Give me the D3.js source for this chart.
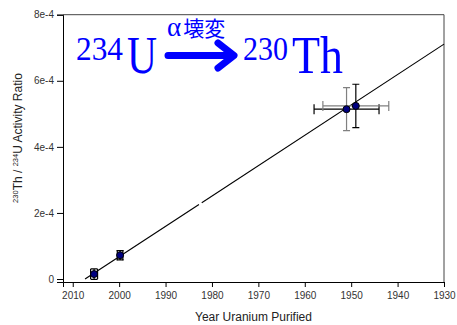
<!DOCTYPE html>
<html lang="ja">
<head>
    <meta charset="UTF-8">
    <title>230Th / 234U Activity Ratio</title>
    <style>
        body{ margin:0; background:#fff; }
        svg{ display:block; }
        .tickLabel{ font-family:"Liberation Sans", Arial, sans-serif; font-size:10px; fill:#333; }
        .axisTitle{ font-family:"Liberation Sans", Arial, sans-serif; font-size:12px; fill:#222; }
        .nuclide{ font-family:"Liberation Serif", "Times New Roman", serif; fill:#0000ff; }
    </style>
    <script src="https://cdn.jsdelivr.net/npm/d3@7"></script>
</head>
<body>
<script>
    // measured samples
    const years = [2005.4, 1999.8, 1951.0, 1949.0];
    const ratios = [1.5e-5, 7.2e-5, 5.14e-4, 5.24e-4];
    const yearErr = [0.75, 0.6, 7.0, 7.1];
    const ratioErr = [1.6e-5, 1.4e-5, 0.65e-4, 0.655e-4];
    // which error bar pieces look grey in the figure
    const vErrColor = ["#000", "#000", "#808080", "#000"];
    const hErrColor = ["#000", "#000", "#000", "#808080"];

    // decay line (drawn in two pieces, small gap near 1982)
    const fitYears = [[2007.35, 1982.8], [1982.2, 1930]];
    const fitRatios = [[0, 2.256e-4], [2.311e-4, 7.11e-4]];

    const xTicks = [2010, 2000, 1990, 1980, 1970, 1960, 1950, 1940, 1930];
    const yTicks = [0, 2e-4, 4e-4, 6e-4, 8e-4];
    const yTickLabels = ["0", "2e-4", "4e-4", "6e-4", "8e-4"];

    const width = 457, height = 325;
    const plot = {left: 63, right: 444, top: 14.7, bottom: 282};

    const svg = d3.select("body").append("svg")
        .attr("width", width).attr("height", height);

    const x = d3.scaleLinear().domain([2012.1, 1930]).range([plot.left, plot.right]);
    const y = d3.scaleLinear().domain([-9e-6, 8e-4]).range([plot.bottom, plot.top]);

    /* ---------- frame ---------- */
    svg.append("path")
        .attr("d", `M${plot.left},${plot.top}H${plot.right}V${plot.bottom}`)
        .attr("fill", "none").attr("stroke", "#444").attr("stroke-width", 1);

    const xAxis = svg.append("g")
        .attr("transform", `translate(0,${plot.bottom})`)
        .call(d3.axisBottom(x).tickValues(xTicks).tickFormat(d3.format("d")).tickSizeOuter(0).tickSize(5).tickPadding(5));
    const yAxis = svg.append("g")
        .attr("transform", `translate(${plot.left},0)`)
        .call(d3.axisLeft(y).tickValues(yTicks).tickFormat((d, i) => yTickLabels[i]).tickSizeOuter(0).tickSize(6).tickPadding(3));

    [xAxis, yAxis].forEach(a => {
        a.select(".domain").attr("stroke", "#000");
        a.selectAll(".tick line").attr("stroke", "#000");
        a.selectAll(".tick text").attr("class", "tickLabel").attr("font-family", null).attr("font-size", null).attr("fill", null);
    });

    /* ---------- axis titles ---------- */
    svg.append("text")
        .attr("class", "axisTitle")
        .attr("x", (plot.left + plot.right) / 2)
        .attr("y", 321)
        .attr("text-anchor", "middle")
        .text("Year Uranium Purified");

    const yt = svg.append("text")
        .attr("class", "axisTitle")
        .attr("text-anchor", "middle")
        .attr("transform", `translate(22,138) rotate(-90)`);
    yt.append("tspan").attr("font-size", "7.5px").attr("dy", -4.5).text("230");
    yt.append("tspan").attr("dy", 4.5).text("Th / ");
    yt.append("tspan").attr("font-size", "7.5px").attr("dy", -4.5).text("234");
    yt.append("tspan").attr("dy", 4.5).text("U Activity Ratio");

    /* ---------- decay line ---------- */
    const line = d3.line().x(d => x(d[0])).y(d => y(d[1]));
    svg.append("g").selectAll("path")
        .data(fitYears.map((ys, i) => ys.map((yr, j) => [yr, fitRatios[i][j]])))
        .enter().append("path")
        .attr("d", line)
        .attr("fill", "none").attr("stroke", "#000").attr("stroke-width", 1.1);

    /* ---------- error bars ---------- */
    const pts = years.map((yr, i) => ({yr, r: ratios[i], ex: yearErr[i], ey: ratioErr[i], vc: vErrColor[i], hc: hErrColor[i]}));
    const err = svg.append("g").attr("fill", "none").attr("stroke-width", 1.2);
    pts.forEach(p => {
        const cx = x(p.yr), cy = y(p.r);
        const y0 = y(p.r - p.ey), y1 = y(p.r + p.ey);
        const x0 = x(p.yr + p.ex), x1 = x(p.yr - p.ex);
        err.append("path").attr("stroke", p.vc)
            .attr("d", `M${cx},${y0}V${y1}M${cx - 3.5},${y0}H${cx + 3.5}M${cx - 3.5},${y1}H${cx + 3.5}`);
        err.append("path").attr("stroke", p.hc)
            .attr("d", `M${x0},${cy}H${x1}M${x0},${cy - 5}V${cy + 5}M${x1},${cy - 5}V${cy + 5}`);
    });

    /* ---------- points ---------- */
    svg.append("g").selectAll("circle")
        .data(pts).enter().append("circle")
        .attr("cx", d => x(d.yr)).attr("cy", d => y(d.r))
        .attr("r", 3.5)
        .attr("fill", "#000080").attr("stroke", "#000").attr("stroke-width", 1);

    /* ---------- 234U -> 230Th annotation ---------- */
    const note = svg.append("g");
    note.append("text").attr("class", "nuclide").attr("x", 76).attr("y", 60)
        .attr("font-size", "33px").attr("textLength", 47).attr("lengthAdjust", "spacingAndGlyphs").text("234");
    note.append("text").attr("class", "nuclide").attr("x", 127).attr("y", 73)
        .attr("font-size", "52px").attr("textLength", 30).attr("lengthAdjust", "spacingAndGlyphs").text("U");
    note.append("text").attr("class", "nuclide").attr("x", 243).attr("y", 60)
        .attr("font-size", "33px").attr("textLength", 45).attr("lengthAdjust", "spacingAndGlyphs").text("230");
    note.append("text").attr("class", "nuclide").attr("x", 292).attr("y", 73)
        .attr("font-size", "52px").attr("textLength", 51).attr("lengthAdjust", "spacingAndGlyphs").text("Th");
    const alpha = note.append("text").attr("class", "nuclide").attr("x", 167).attr("y", 36)
        .attr("font-size", "27px");
    alpha.append("tspan").text("α");
    alpha.append("tspan").attr("dx", 2)
        .attr("font-family", "'Noto Sans CJK JP', sans-serif").attr("font-size", "21px").text("壊変");
    note.append("path")
        .attr("d", "M168,55.5H230M218,43L234,55.5L218,68")
        .attr("fill", "none").attr("stroke", "#0000ff").attr("stroke-width", 7)
        .attr("stroke-linecap", "round").attr("stroke-linejoin", "round");
</script>
</body>
</html>
